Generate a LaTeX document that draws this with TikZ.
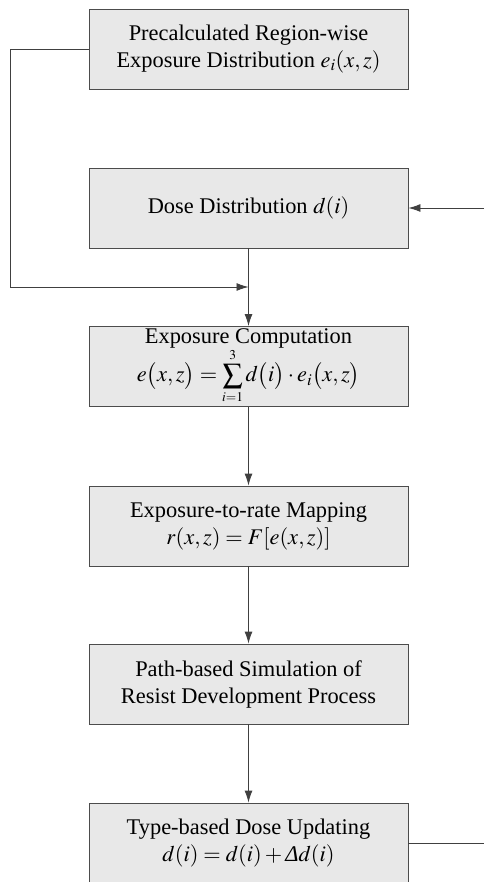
\documentclass[tikz,border=0pt]{standalone}
\usepackage{mathptmx}
\usepackage{graphicx}
\usepackage{fontspec}
\setmainfont{Liberation Serif}
\usetikzlibrary{arrows.meta}

\newcommand{\smallsum}{\mathop{\vcenter{\hbox{\scalebox{0.88}{$\displaystyle\sum$}}}}\limits}

\tikzset{
	stage/.style={draw=black!70,fill=black!9,line width=0.9pt,minimum width=319pt,minimum height=80pt,
		align=center,inner sep=0pt,font=\fontsize{22.4}{27}\selectfont},
	flow/.style={draw=black!75,line width=0.9pt},
	arr/.style={flow,-{Latex[length=12pt,width=8pt]}}
}

\begin{document}
\begin{tikzpicture}[x=1pt,y=-1pt]
		\clip (0,0) rectangle (484,882);
		\node[stage] (pre) at (248.5,49) {Precalculated Region-wise\\Exposure Distribution $e_i(x,z)$};
		\node[stage] (dose) at (248.5,208) {Dose Distribution $d(i)$};
		\node[stage] (comp) at (248.5,366.5) {Exposure Computation\\[-1pt]
			$\displaystyle e\bigl(x,z\bigr)=\smallsum_{\scriptscriptstyle i=1}^{\scriptscriptstyle 3}d\bigl(i\bigr)\cdot e_i\bigl(x,z\bigr)$};
		\node[stage] (map) at (248.5,526) {Exposure-to-rate Mapping\\$r(x,z) = F[e(x,z)]$};
		\node[stage] (sim) at (248.5,684) {Path-based Simulation of\\Resist Development Process};
		\node[stage] (upd) at (248.5,843) {Type-based Dose Updating\\$d(i) = d(i) + \mbox{\itshape Δ}d(i)$};
		\coordinate (loop) at (10,287);
		\coordinate (join) at (248.5,287);
		\coordinate (out) at (484,843);
		\coordinate (in) at (484,208);
		\draw[arr](pre.west) -| (loop) -- (join);
		\draw[arr](dose.south) -- (comp.north);
		\draw[arr](comp.south) -- (map.north);
		\draw[arr](map.south) -- (sim.north);
		\draw[arr](sim.south) -- (upd.north);
		\draw[flow](upd.east) -- (out);
		\draw[arr](in) -- (dose.east);
	\end{tikzpicture}
\end{document}
